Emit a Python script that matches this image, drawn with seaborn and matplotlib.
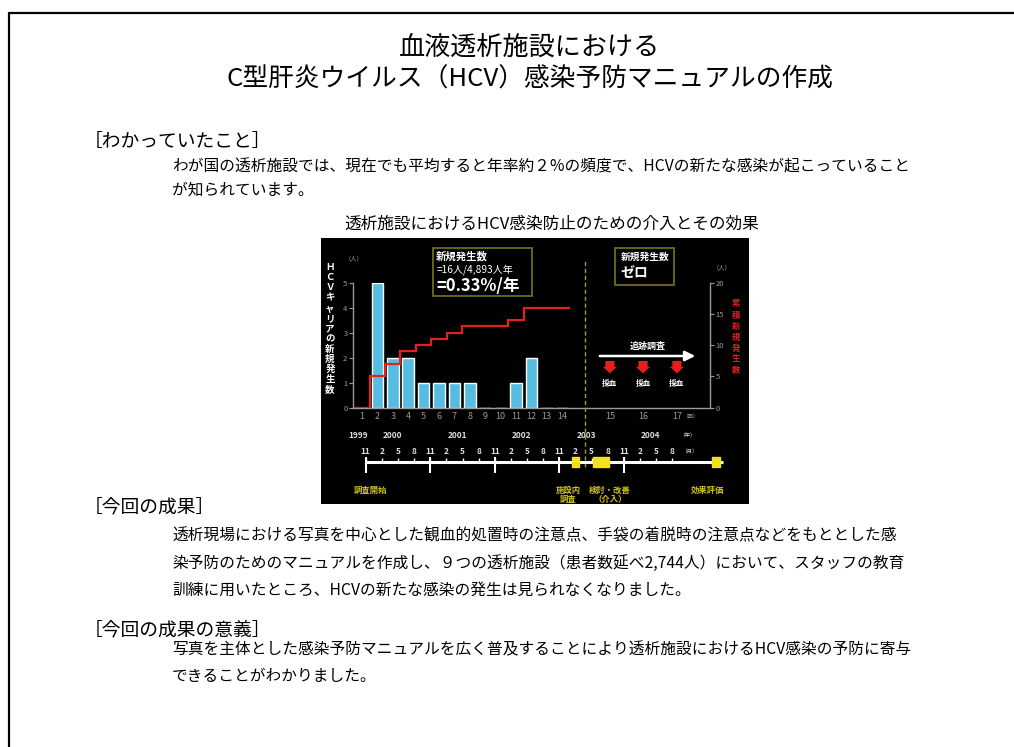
import numpy as np
import matplotlib.pyplot as plt
import seaborn as sns
from matplotlib.patches import Rectangle
from matplotlib.lines import Line2D

W, H = 1014, 747

# Données du graphique
rounds = list(range(1, 15))
new_cases = [0, 5, 2, 2, 1, 1, 1, 1, 0, 0, 1, 2, 0, 0]
follow_rounds = ['15', '16', '17']
follow_pos = [17.1, 19.25, 21.45]
left_ticks = [0, 1, 2, 3, 4, 5]
right_ticks = [0, 5, 10, 15, 20]

# Frise chronologique (mois depuis novembre 1999)
year_labels = ['1999', '2000', '2001', '2002', '2003', '2004']
year_months = [-1.5, 5, 17, 29, 41, 53]
month_labels = ['11', '2', '5', '8'] * 5
month_ticks = list(range(0, 60, 3))
major_months = [0, 12, 24, 36, 48]
phase_labels = ['調査開始', '施設内\n調査', '検討・改善\n（介入）', '効果評価']
phase_label_months = [0.8, 37.6, 45.4, 63.5]
phase_starts = [38.3, 42.2, 64.4]
phase_ends = [39.7, 45.3, 65.9]

sns.set_theme(style='white')
plt.rcParams['font.family'] = ['Noto Sans CJK JP', 'DejaVu Sans']


def fx(x):
    return x / W


def fy(y):
    return 1 - y / H


def ptxt(x, y, s, **kw):
    kw.setdefault('va', 'center')
    kw.setdefault('color', 'black')
    fig.text(fx(x), fy(y), s, **kw)


fig = plt.figure(figsize=(W / 100, H / 100), dpi=100)
fig.patch.set_facecolor('white')

# Cadre de la page
fig.add_artist(Line2D([fx(9), 1], [fy(13), fy(13)], color='black', lw=1.6))
fig.add_artist(Line2D([fx(9), fx(9)], [fy(13), 0], color='black', lw=1.6))

# Titre et textes
body = 11.3
ptxt(530, 47, '血液透析施設における', ha='center', fontsize=18.8)
ptxt(530, 80, 'C型肝炎ウイルス（HCV）感染予防マニュアルの作成', ha='center', fontsize=18.5)

ptxt(84, 141, '［わかっていたこと］', fontsize=13.5)
ptxt(172, 167, 'わが国の透析施設では、現在でも平均すると年率約２%の頻度で、HCVの新たな感染が起こっていること',
     fontsize=body)
ptxt(172, 190, 'が知られています。', fontsize=body)
ptxt(552, 224, '透析施設におけるHCV感染防止のための介入とその効果', ha='center', fontsize=12)

ptxt(84, 508, '［今回の成果］', fontsize=13.5)
ptxt(172, 536, '透析現場における写真を中心とした観血的処置時の注意点、手袋の着脱時の注意点などをもととした感',
     fontsize=body)
ptxt(172, 563, '染予防のためのマニュアルを作成し、９つの透析施設（患者数延べ2,744人）において、スタッフの教育',
     fontsize=body)
ptxt(172, 590, '訓練に用いたところ、HCVの新たな感染の発生は見られなくなりました。', fontsize=body)

ptxt(84, 630, '［今回の成果の意義］', fontsize=13.5)
ptxt(172, 650, '写真を主体とした感染予防マニュアルを広く普及することにより透析施設におけるHCV感染の予防に寄与',
     fontsize=body)
ptxt(172, 676, 'できることがわかりました。', fontsize=body)

# Fond noir du graphique
ax_bg = fig.add_axes([fx(321), fy(504), (749 - 321) / W, (504 - 238) / H])
ax_bg.axis('off')
ax_bg.add_patch(Rectangle((0, 0), 1, 1, transform=ax_bg.transAxes, color='black'))

grey = '#9a9a9a'
red = '#e3201b'
yellow = '#f2e21e'
olive = '#6f6a1c'

# Axe principal : nouveaux cas
ax = fig.add_axes([fx(353), fy(407.7), (710 - 353) / W, 125 / H])
ax.set_facecolor('none')
sns.barplot(x=rounds, y=new_cases, native_scale=True, color='#55bde2', saturation=1,
            width=0.76, errorbar=None, ax=ax, zorder=2)
ax.set_xlim(0.416, 23.6)
ax.set_ylim(0, 5)
ax.set_xlabel('')
ax.set_ylabel('')
ax.set_xticks(rounds + follow_pos, labels=[str(r) for r in rounds] + follow_rounds)
ax.set_yticks(left_ticks)
ax.tick_params(axis='x', length=0, pad=3, labelsize=6.5, labelcolor=grey)
ax.tick_params(axis='y', length=3, width=0.8, color=grey, pad=1, labelsize=5.5, labelcolor=grey)
for side in ['top', 'right']:
    ax.spines[side].set_visible(False)
for side in ['left', 'bottom']:
    ax.spines[side].set_color(grey)
    ax.spines[side].set_linewidth(1)

# Axe secondaire : cumul
ax2 = ax.twinx()
ax2.set_ylim(0, 20)
ax2.set_yticks(right_ticks)
ax2.tick_params(axis='y', length=3, width=0.8, color=grey, pad=1, labelsize=5.5, labelcolor=grey)
for side in ['top', 'left', 'bottom']:
    ax2.spines[side].set_visible(False)
ax2.spines['right'].set_color(grey)
ax2.spines['right'].set_linewidth(1)
ax2.grid(False)
ax.grid(False)
cum_cases = np.cumsum(new_cases)
edges = np.arange(0.5, len(rounds) + 1)
ax2.stairs(cum_cases, edges, baseline=None, color=red, lw=1.6, zorder=3)

# Ligne pointillée de l'intervention
ax.axvline(15.48, ymin=-0.474, ymax=1.18, clip_on=False, color='#a89c1c', lw=1,
           ls=(0, (3, 2)), zorder=4)

# Étiquettes des axes (texte vertical)
left_label = 'ＨＣＶキャリアの新規発生数'
for i, ch in enumerate(left_label):
    ptxt(330, 267 + i * 10.2, ch, ha='center', fontsize=6.8, color='white', fontweight='bold')
right_label = '累積新規発生数'
for i, ch in enumerate(right_label):
    ptxt(736, 304 + i * 11, ch, ha='center', fontsize=6, color=red, fontweight='bold')
ptxt(354, 258, '（人）', ha='center', fontsize=4.5, color=grey)
ptxt(722, 267, '（人）', ha='center', fontsize=4.5, color=grey)
ptxt(690, 417, '（回）', ha='center', fontsize=4, color=grey)

# Encadrés
fig.add_artist(Rectangle((fx(433), fy(296)), (532 - 433) / W, (296 - 248) / H,
                         transform=fig.transFigure, fill=False, edgecolor=olive, lw=1.3))
ptxt(436, 256, '新規発生数', fontsize=7.5, color='white', fontweight='bold')
ptxt(437, 270, '=16人/4,893人年', fontsize=7.3, color='white')
ptxt(436, 286.5, '=0.33%/年', fontsize=12, color='white', fontweight='bold')

fig.add_artist(Rectangle((fx(615), fy(285)), (674 - 615) / W, (285 - 248) / H,
                         transform=fig.transFigure, fill=False, edgecolor=olive, lw=1.3))
ptxt(621, 256.5, '新規発生数', fontsize=7, color='white', fontweight='bold')
ptxt(620, 273, 'ゼロ', fontsize=10, color='white', fontweight='bold')

# Suivi : flèche blanche et prélèvements
ax.annotate('', xy=(698, H - 356), xytext=(597, H - 356), xycoords='figure pixels',
            textcoords='figure pixels', annotation_clip=False,
            arrowprops=dict(arrowstyle='-|>,head_length=0.5,head_width=0.25', color='white', lw=1.8))
ptxt(648, 346.5, '追跡調査', ha='center', fontsize=6.5, color='white', fontweight='bold')
for pos in follow_pos:
    ax.annotate('', xy=(pos, 1.26), xytext=(pos, 1.98), annotation_clip=False,
                arrowprops=dict(arrowstyle='simple,head_width=0.85,head_length=0.4,tail_width=0.55',
                                fc=red, ec='none'))
    ax.text(pos, 0.98, '採血', ha='center', va='center', fontsize=5.5, color='white',
            fontweight='bold')

# Frise chronologique
ax_t = fig.add_axes([fx(330), fy(500), (740 - 330) / W, (500 - 425) / H])
ax_t.axis('off')
ax_t.set_xlim((330 - 365.7) / 5.38, (740 - 365.7) / 5.38)
ax_t.set_ylim(500, 425)
ax_t.plot([0, 66.5], [461.7, 461.7], color='white', lw=2.2, solid_capstyle='butt')
ax_t.vlines(month_ticks, 458, 461.7, color='white', lw=1)
ax_t.vlines(major_months, 456.5, 472.5, color='white', lw=1.5)
for m0, m1 in zip(phase_starts, phase_ends):
    ax_t.add_patch(Rectangle((m0, 456.5), m1 - m0, 10, color=yellow, zorder=3))
for lab, m in zip(year_labels, year_months):
    ax_t.text(m, 435.7, lab, ha='center', va='center', fontsize=6, color='#dddddd',
              fontweight='bold')
ax_t.text(59.8, 436, '（年）', ha='center', va='center', fontsize=4, color='#dddddd')
for lab, m in zip(month_labels, month_ticks):
    ax_t.text(m, 451.7, lab, ha='center', va='center', fontsize=6, color='#dddddd',
              fontweight='bold')
ax_t.text(60.2, 452, '（月）', ha='center', va='center', fontsize=4, color='#dddddd')
for lab, m in zip(phase_labels, phase_label_months):
    ax_t.text(m, 485.5, lab, ha='center', va='top', fontsize=6, color='#cfc21e',
              fontweight='bold', linespacing=1.05)

fig.savefig('out.png', dpi=100)
